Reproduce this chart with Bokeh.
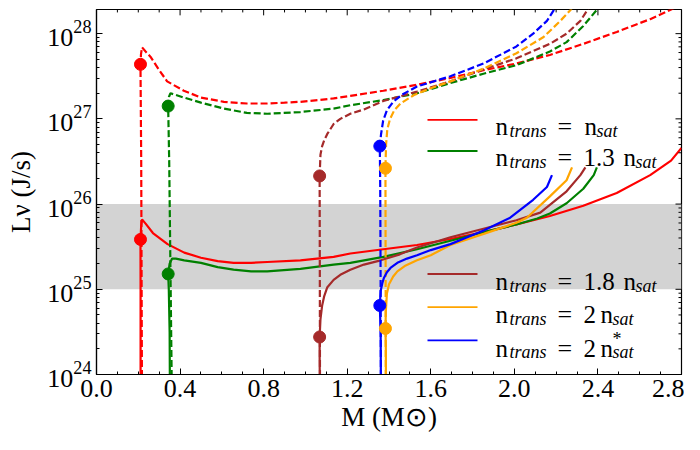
import math
from bokeh.plotting import figure
from bokeh.models import Range1d, FixedTicker, NumeralTickFormatter, BoxAnnotation, Label
from bokeh.embed import file_html
from bokeh.resources import INLINE

# ---------------- data (M in solar masses, log10 of L_nu in J/s) ----------------
x_ticks = [0.0, 0.4, 0.8, 1.2, 1.6, 2.0, 2.4, 2.8]
y_ticks = [1e24, 1e25, 1e26, 1e27, 1e28]
band_low, band_high = 1e25, 1e26
x_label = "M (M\u2299)"
y_label = "L\u03bd (J/s)"

red_dashed_M = [0.218, 0.216, 0.214, 0.2105, 0.213, 0.218, 0.235, 0.258, 0.298, 0.338, 0.418, 0.50, 0.61, 0.72, 0.817, 0.90, 0.976, 1.06, 1.135, 1.215, 1.373, 1.535, 1.694, 1.852, 2.01, 2.17, 2.33, 2.49, 2.65, 2.73, 2.80]
red_dashed_logL = [23.5, 25.0, 26.5, 27.64, 27.76, 27.84, 27.79, 27.73, 27.58, 27.44, 27.33, 27.25, 27.20, 27.18, 27.18, 27.19, 27.20, 27.22, 27.24, 27.27, 27.33, 27.40, 27.48, 27.57, 27.65, 27.75, 27.88, 28.02, 28.17, 28.26, 28.34]
red_solid_M = [0.211, 0.211, 0.2105, 0.214, 0.218, 0.235, 0.27, 0.34, 0.42, 0.50, 0.58, 0.656, 0.74, 0.817, 0.976, 1.135, 1.215, 1.373, 1.534, 1.694, 1.852, 2.01, 2.17, 2.33, 2.49, 2.65, 2.75, 2.80]
red_solid_logL = [23.5, 25.0, 25.585, 25.75, 25.82, 25.77, 25.66, 25.53, 25.43, 25.37, 25.33, 25.31, 25.31, 25.32, 25.34, 25.38, 25.42, 25.47, 25.52, 25.59, 25.67, 25.76, 25.86, 25.98, 26.13, 26.34, 26.51, 26.66]
red_dots_M = [0.2105, 0.2105]
red_dots_logL = [27.64, 25.585]

green_dashed_M = [0.362, 0.355, 0.348, 0.343, 0.347, 0.354, 0.38, 0.418, 0.50, 0.61, 0.72, 0.817, 0.976, 1.135, 1.215, 1.373, 1.534, 1.694, 1.852, 2.01, 2.17, 2.25, 2.33, 2.395, 2.42]
green_dashed_logL = [23.5, 25.0, 26.5, 27.15, 27.26, 27.30, 27.28, 27.25, 27.19, 27.12, 27.07, 27.06, 27.08, 27.12, 27.16, 27.22, 27.30, 27.42, 27.53, 27.63, 27.79, 27.90, 28.09, 28.28, 28.36]
green_solid_M = [0.352, 0.350, 0.346, 0.343, 0.350, 0.362, 0.38, 0.42, 0.50, 0.58, 0.656, 0.74, 0.817, 0.976, 1.135, 1.215, 1.373, 1.534, 1.694, 1.852, 2.01, 2.11, 2.17, 2.25, 2.33, 2.38, 2.395]
green_solid_logL = [23.5, 24.5, 25.0, 25.18, 25.30, 25.36, 25.36, 25.34, 25.31, 25.26, 25.23, 25.21, 25.21, 25.24, 25.29, 25.31, 25.38, 25.47, 25.57, 25.67, 25.76, 25.83, 25.89, 26.01, 26.18, 26.34, 26.43]
green_dots_M = [0.343, 0.343]
green_dots_logL = [27.15, 25.18]

brown_dashed_M = [1.070, 1.069, 1.068, 1.072, 1.080, 1.090, 1.104, 1.135, 1.167, 1.215, 1.28, 1.373, 1.534, 1.694, 1.852, 2.01, 2.17, 2.25, 2.316, 2.35, 2.37]
brown_dashed_logL = [23.5, 25.0, 26.33, 26.58, 26.68, 26.75, 26.82, 26.94, 27.00, 27.06, 27.11, 27.21, 27.32, 27.44, 27.58, 27.71, 27.88, 28.00, 28.15, 28.28, 28.36]
brown_solid_M = [1.070, 1.068, 1.068, 1.072, 1.080, 1.090, 1.104, 1.135, 1.167, 1.215, 1.28, 1.36, 1.452, 1.534, 1.694, 1.852, 2.01, 2.124, 2.25, 2.316, 2.34]
brown_solid_logL = [23.5, 24.2, 24.44, 24.65, 24.81, 24.92, 25.02, 25.11, 25.17, 25.23, 25.29, 25.34, 25.41, 25.49, 25.61, 25.71, 25.81, 25.90, 26.15, 26.34, 26.43]
brown_dots_M = [1.068, 1.068]
brown_dots_logL = [26.33, 24.44]

orange_dashed_M = [1.385, 1.384, 1.383, 1.386, 1.392, 1.405, 1.425, 1.455, 1.52, 1.60, 1.694, 1.853, 2.01, 2.14, 2.22, 2.27, 2.29]
orange_dashed_logL = [23.5, 25.0, 26.42, 26.70, 26.88, 27.00, 27.10, 27.18, 27.28, 27.36, 27.44, 27.59, 27.77, 27.96, 28.15, 28.28, 28.36]
orange_solid_M = [1.386, 1.385, 1.383, 1.385, 1.390, 1.400, 1.420, 1.440, 1.480, 1.534, 1.600, 1.694, 1.853, 2.01, 2.06, 2.17, 2.25, 2.276]
orange_solid_logL = [23.5, 24.3, 24.54, 24.75, 24.95, 25.06, 25.15, 25.21, 25.28, 25.34, 25.40, 25.52, 25.65, 25.78, 25.84, 26.09, 26.28, 26.43]
orange_dots_M = [1.383, 1.383]
orange_dots_logL = [26.42, 24.54]

blue_dashed_M = [1.362, 1.360, 1.358, 1.356, 1.362, 1.372, 1.390, 1.420, 1.460, 1.534, 1.694, 1.853, 2.01, 2.09, 2.156, 2.19, 2.21]
blue_dashed_logL = [23.5, 25.0, 26.2, 26.68, 26.82, 26.98, 27.10, 27.20, 27.28, 27.38, 27.50, 27.65, 27.85, 28.00, 28.15, 28.28, 28.36]
blue_solid_M = [1.362, 1.360, 1.356, 1.360, 1.368, 1.375, 1.390, 1.407, 1.440, 1.486, 1.534, 1.600, 1.694, 1.853, 1.98, 2.09, 2.156, 2.18]
blue_solid_logL = [23.5, 24.5, 24.81, 24.98, 25.07, 25.13, 25.20, 25.25, 25.31, 25.36, 25.40, 25.46, 25.53, 25.69, 25.84, 26.05, 26.20, 26.34]
blue_dots_M = [1.356, 1.356]
blue_dots_logL = [26.68, 24.81]

series = [
    ("red", red_dashed_M, red_dashed_logL, red_solid_M, red_solid_logL, red_dots_M, red_dots_logL),
    ("green", green_dashed_M, green_dashed_logL, green_solid_M, green_solid_logL, green_dots_M, green_dots_logL),
    ("brown", brown_dashed_M, brown_dashed_logL, brown_solid_M, brown_solid_logL, brown_dots_M, brown_dots_logL),
    ("orange", orange_dashed_M, orange_dashed_logL, orange_solid_M, orange_solid_logL, orange_dots_M, orange_dots_logL),
    ("blue", blue_dashed_M, blue_dashed_logL, blue_solid_M, blue_solid_logL, blue_dots_M, blue_dots_logL),
]

# legend rows: (colour, value text before n, has star)
legend_rows = [("red", "", False), ("green", "1.3", False),
               ("brown", "1.8", False), ("orange", "2", False), ("blue", "2", True)]

# ---------------- figure ----------------
FONT = "Liberation Serif"
X0, X1 = 0.0, 2.8
Y0, Y1 = 1e24, 1.92e28

p = figure(width=684, height=434, x_range=Range1d(X0, X1), y_range=Range1d(Y0, Y1),
           y_axis_type="log", output_backend="svg", toolbar_location=None,
           min_border_left=96, min_border_right=3, min_border_top=9, min_border_bottom=48,
           background_fill_color="white", border_fill_color="white")
p.grid.visible = False
p.outline_line_color = "black"
p.outline_line_width = 1.2

x_minor = [i / 10 for i in range(0, 29)]
y_minor = [k * 10.0 ** e for e in range(24, 29) for k in range(2, 10) if k * 10.0 ** e <= Y1]


def style_axis(ax, label):
    ax.axis_line_color = "black"
    ax.axis_line_width = 1.2
    ax.major_tick_in = 6
    ax.major_tick_out = 0
    ax.minor_tick_in = 3
    ax.minor_tick_out = 0
    ax.major_tick_line_color = "black"
    ax.minor_tick_line_color = "black"
    ax.major_tick_line_width = 1
    ax.minor_tick_line_width = 1
    ax.major_label_text_font = FONT
    ax.major_label_text_color = "black"
    ax.major_label_text_font_size = "26px"
    ax.major_label_standoff = 5
    ax.axis_label = label
    ax.axis_label_text_font = FONT
    ax.axis_label_text_font_size = "27px"
    ax.axis_label_text_font_style = "normal"
    ax.axis_label_text_color = "black"
    ax.axis_label_standoff = 2


xa = p.xaxis[0]
xa.ticker = FixedTicker(ticks=x_ticks, minor_ticks=x_minor)
xa.formatter = NumeralTickFormatter(format="0.0")
style_axis(xa, x_label)
ya = p.yaxis[0]
ya.ticker = FixedTicker(ticks=y_ticks, minor_ticks=y_minor)
style_axis(ya, y_label)
ya.axis_label_standoff = 8

p.add_layout(BoxAnnotation(bottom=band_low, top=band_high, fill_color="#d3d3d3",
                           fill_alpha=1.0, line_alpha=0, level="underlay"))

for col, dm, dl, sm, sl, pm, pl in series:
    p.line(dm, [10 ** v for v in dl], line_color=col, line_width=2.2, line_dash="7 3")
    p.line(sm, [10 ** v for v in sl], line_color=col, line_width=2.2)
for col, dm, dl, sm, sl, pm, pl in series:
    p.scatter(pm, [10 ** v for v in pl], size=12, fill_color=col, line_color=col)

# ---------------- reference-pixel helpers (frame of the reference picture) ----------------
FL, FR, FT, FB = 96.0, 681.0, 12.0, 386.0


def dx(px):
    return X0 + (px - FL) / (FR - FL) * (X1 - X0)


def dy(py):
    return 10 ** (math.log10(Y0) + (FB - py) / (FB - FT) * (math.log10(Y1) - math.log10(Y0)))


# inward ticks on the top and right frame edges (mirroring the bottom / left axes)
top_x0, top_x1, top_y0, top_y1 = [], [], [], []
for t, ln in [(t, 6) for t in x_ticks] + [(t, 3) for t in x_minor if t not in x_ticks]:
    top_x0.append(t); top_x1.append(t); top_y0.append(Y1); top_y1.append(dy(FT + ln))
p.segment(top_x0, top_y0, top_x1, top_y1, line_color="black", line_width=1)
r_x0, r_x1, r_y0, r_y1 = [], [], [], []
for t, ln in [(t, 6) for t in y_ticks] + [(t, 3) for t in y_minor]:
    r_x0.append(X1); r_x1.append(dx(FR - ln)); r_y0.append(t); r_y1.append(t)
p.segment(r_x0, r_y0, r_x1, r_y1, line_color="black", line_width=1)


def txt(px, py, s, size, style="normal"):
    p.add_layout(Label(x=dx(px), y=dy(py), text=s, text_font=FONT, text_font_size=f"{size}px",
                       text_font_style=style, text_color="black", text_align="left",
                       text_baseline="alphabetic"))


# legend
line_y = [125, 157, 283, 317, 351]
base_y = [132, 164, 291, 325, 359]
for (col, val, star), ly, by in zip(legend_rows, line_y, base_y):
    p.line([dx(427), dx(477)], [dy(ly), dy(ly)], line_color=col, line_width=1.8)
    txt(495, by, "n", 25)
    txt(509, by + 4, "trans", 18, "italic")
    txt(557, by, "=", 26)
    if val == "":
        nx = 584
    elif len(val) == 1:
        txt(583, by, val, 25)
        nx = 600
    else:
        txt(583, by, val, 25)
        nx = 623
    txt(nx, by, "n", 25)
    if star:
        txt(nx + 12, by - 9, "*", 18)
    txt(nx + 12, by + 4, "sat", 18, "italic")

open("out.html", "w").write(file_html(p, INLINE))
